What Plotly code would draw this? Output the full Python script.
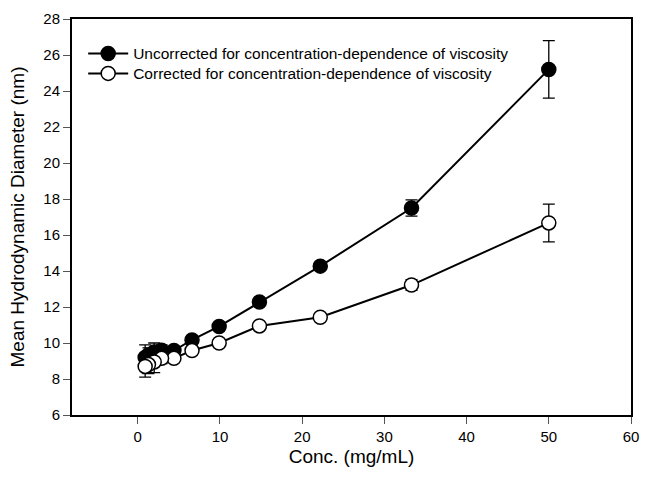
import plotly.graph_objects as go

conc = [50, 33.3, 22.2, 14.8, 9.9, 6.6, 4.4, 2.9, 2.0, 1.3, 0.9]
uncorrected = [25.2, 17.5, 14.27, 12.28, 10.92, 10.17, 9.58, 9.6, 9.5, 9.33, 9.2]
uncorrected_err = [1.6, 0.45, 0.2, 0.2, 0.2, 0.2, 0.2, 0.3, 0.5, 0.4, 0.7]
corrected = [16.67, 13.22, 11.43, 10.95, 10.0, 9.58, 9.15, 9.15, 8.95, 8.8, 8.7]
corrected_err = [1.05, 0.3, 0.2, 0.2, 0.2, 0.2, 0.2, 0.3, 0.6, 0.5, 0.6]

font = "Liberation Sans, Arial, sans-serif"

fig = go.Figure()
fig.add_trace(go.Scatter(
    x=conc, y=uncorrected, mode="lines+markers",
    name="Uncorrected for concentration-dependence of viscosity",
    line=dict(color="black", width=2),
    marker=dict(size=14, color="black", line=dict(color="black", width=1.5)),
    error_y=dict(type="data", array=uncorrected_err, color="black", thickness=1.3, width=6),
    legend="legend",
))
fig.add_trace(go.Scatter(
    x=conc, y=corrected, mode="lines+markers",
    name="Corrected for concentration-dependence of viscosity",
    line=dict(color="black", width=2),
    marker=dict(size=14, color="white", line=dict(color="black", width=1.5)),
    error_y=dict(type="data", array=corrected_err, color="black", thickness=1.3, width=6),
    legend="legend2",
))

legend_common = dict(xanchor="left", yanchor="top", bgcolor="rgba(0,0,0,0)",
                     font=dict(size=15.5), itemwidth=40)

fig.update_layout(
    width=649, height=481,
    margin=dict(l=72, r=10, t=19, b=66),
    paper_bgcolor="white", plot_bgcolor="white",
    font=dict(family=font, size=15, color="black"),
    showlegend=True,
    legend=dict(x=0.02, y=0.955, **legend_common),
    legend2=dict(x=0.02, y=0.9045, **legend_common),
)
fig.update_xaxes(
    range=[-8, 60], tickmode="array", tickvals=[0, 10, 20, 30, 40, 50, 60],
    showgrid=False, zeroline=False, showline=True, linecolor="black", linewidth=2,
    mirror=True, ticks="outside", ticklen=7, tickcolor="#555", tickwidth=1,
    title=dict(text="Conc. (mg/mL)", font=dict(size=19), standoff=6),
    tickfont=dict(size=15),
)
fig.update_yaxes(
    range=[6, 28], tickmode="array", tickvals=list(range(6, 29, 2)),
    showgrid=False, zeroline=False, showline=True, linecolor="black", linewidth=2,
    mirror=True, ticks="outside", ticklen=7, tickcolor="#555", tickwidth=1,
    title=dict(text="Mean Hydrodynamic Diameter (nm)", font=dict(size=19), standoff=14),
    tickfont=dict(size=15),
)

fig.write_html("out.html")
